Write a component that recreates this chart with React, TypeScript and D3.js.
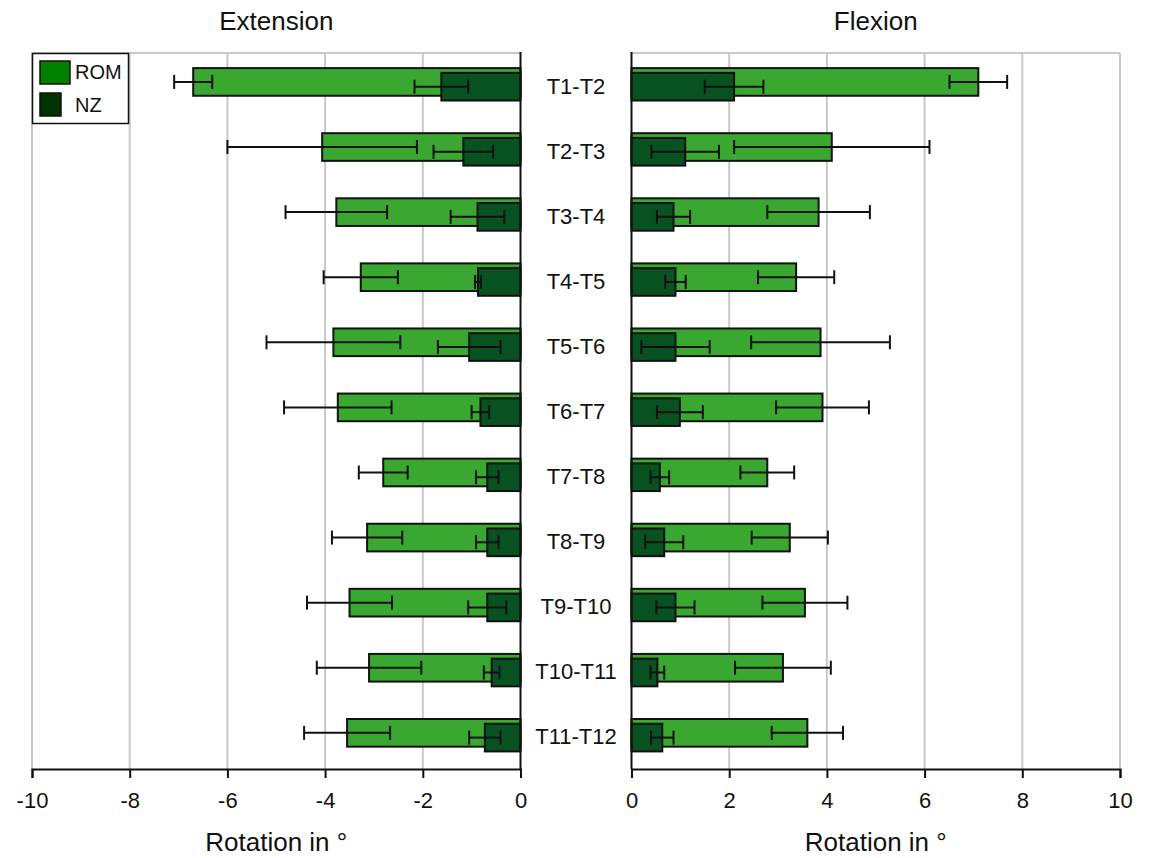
import * as d3 from 'd3'
import { useEffect, useRef } from 'react'

const segments = ['T1-T2', 'T2-T3', 'T3-T4', 'T4-T5', 'T5-T6', 'T6-T7', 'T7-T8', 'T8-T9', 'T9-T10', 'T10-T11', 'T11-T12']

// extension (drawn to the left, negative)
const extRom = [-6.7, -4.06, -3.77, -3.27, -3.83, -3.74, -2.81, -3.14, -3.5, -3.1, -3.55]
const extRomSd = [0.39, 1.94, 1.04, 0.76, 1.37, 1.1, 0.5, 0.72, 0.87, 1.07, 0.88]
const extNz = [-1.62, -1.17, -0.88, -0.87, -1.05, -0.82, -0.68, -0.68, -0.68, -0.59, -0.73]
const extNzSd = [0.55, 0.61, 0.55, 0.06, 0.64, 0.18, 0.23, 0.23, 0.39, 0.16, 0.32]

// flexion
const flexRom = [7.1, 4.1, 3.83, 3.37, 3.87, 3.91, 2.78, 3.24, 3.55, 3.1, 3.6]
const flexRomSd = [0.59, 2.0, 1.05, 0.78, 1.42, 0.95, 0.55, 0.78, 0.87, 0.98, 0.73]
const flexNz = [2.1, 1.1, 0.86, 0.9, 0.9, 0.99, 0.58, 0.67, 0.9, 0.53, 0.63]
const flexNzSd = [0.6, 0.69, 0.34, 0.21, 0.7, 0.47, 0.19, 0.39, 0.39, 0.14, 0.23]

const leftTicks = [-10, -8, -6, -4, -2, 0]
const rightTicks = [0, 2, 4, 6, 8, 10]

const W = 1151
const H = 858
const top = 53
const bottom = 769
const font = '"Liberation Sans", Arial, sans-serif'
const romColor = '#3aa830'
const nzColor = '#085222'

export default function App() {
  const ref = useRef<SVGSVGElement>(null)

  useEffect(() => {
    const svg = d3.select(ref.current)
    svg.selectAll('*').remove()

    const y = d3.scaleBand().domain(segments).range([top, bottom])
    const bw = y.bandwidth()

    const panel = (
      x: d3.ScaleLinear<number, number>,
      ticks: number[],
      zero: number,
      rom: number[],
      romSd: number[],
      nz: number[],
      nzSd: number[],
      title: string
    ) => {
      const g = svg.append('g')
      const [x0, x1] = x.range()
      const cx = (x0 + x1) / 2

      // grid
      g.selectAll('.grid')
        .data(ticks.filter((t) => t !== 0))
        .enter()
        .append('line')
        .attr('x1', (d) => x(d))
        .attr('x2', (d) => x(d))
        .attr('y1', top)
        .attr('y2', bottom)
        .attr('stroke', '#c8c8c8')
        .attr('stroke-width', 2)
      g.append('line')
        .attr('x1', x0)
        .attr('x2', x1)
        .attr('y1', top)
        .attr('y2', top)
        .attr('stroke', '#c8c8c8')
        .attr('stroke-width', 2)

      const series = [
        { vals: rom, sd: romSd, color: romColor, off: 0.232 },
        { vals: nz, sd: nzSd, color: nzColor, off: 0.305 },
      ]
      const h = bw * 0.425

      series.forEach((s) => {
        const rows = segments.map((c, i) => ({ c, v: s.vals[i], sd: s.sd[i] }))
        g.selectAll(null)
          .data(rows)
          .enter()
          .append('rect')
          .attr('x', (d) => Math.min(x(0), x(d.v)))
          .attr('width', (d) => Math.abs(x(d.v) - x(0)))
          .attr('y', (d) => (y(d.c) as number) + bw * s.off)
          .attr('height', h)
          .attr('fill', s.color)
          .attr('stroke', '#111')
          .attr('stroke-width', 2)

        const eb = g
          .selectAll(null)
          .data(rows)
          .enter()
          .append('g')
          .attr('transform', (d) => `translate(0,${(y(d.c) as number) + bw * s.off + h / 2})`)
          .attr('stroke', '#111')
          .attr('stroke-width', 2)
        eb.append('line')
          .attr('x1', (d) => x(d.v - d.sd))
          .attr('x2', (d) => x(d.v + d.sd))
        eb.append('line')
          .attr('x1', (d) => x(d.v - d.sd))
          .attr('x2', (d) => x(d.v - d.sd))
          .attr('y1', -7)
          .attr('y2', 7)
        eb.append('line')
          .attr('x1', (d) => x(d.v + d.sd))
          .attr('x2', (d) => x(d.v + d.sd))
          .attr('y1', -7)
          .attr('y2', 7)
      })

      // zero line
      g.append('line')
        .attr('x1', zero)
        .attr('x2', zero)
        .attr('y1', top - 1)
        .attr('y2', bottom)
        .attr('stroke', '#111')
        .attr('stroke-width', 2)

      const axis = g
        .append('g')
        .attr('transform', `translate(0,${bottom})`)
        .call(
          d3
            .axisBottom(x)
            .tickValues(ticks)
            .tickSize(9)
            .tickPadding(14)
            .tickFormat((d) => String(d))
        )
      axis.select('.domain').attr('stroke', '#111').attr('stroke-width', 2)
      axis.selectAll('.tick line').attr('stroke', '#111').attr('stroke-width', 2)
      axis.selectAll('.tick text').attr('font-size', 22).attr('font-family', font).attr('fill', '#111')

      g.append('text')
        .attr('x', cx)
        .attr('y', 851)
        .attr('text-anchor', 'middle')
        .attr('font-size', 26)
        .attr('font-family', font)
        .attr('fill', '#111')
        .text('Rotation in °')

      g.append('text')
        .attr('x', cx)
        .attr('y', 30)
        .attr('text-anchor', 'middle')
        .attr('font-size', 26)
        .attr('font-family', font)
        .attr('fill', '#111')
        .text(title)
    }

    const xLeft = d3.scaleLinear().domain([-10, 0]).range([32, 520.5])
    const xRight = d3.scaleLinear().domain([0, 10]).range([631.5, 1120])
    panel(xLeft, leftTicks, xLeft(0), extRom, extRomSd, extNz, extNzSd, 'Extension')
    panel(xRight, rightTicks, xRight(0), flexRom, flexRomSd, flexNz, flexNzSd, 'Flexion')

    // segment labels
    svg
      .append('g')
      .selectAll('text')
      .data(segments)
      .enter()
      .append('text')
      .attr('x', 576)
      .attr('y', (d) => (y(d) as number) + bw * 0.5 + 8)
      .attr('text-anchor', 'middle')
      .attr('font-size', 22)
      .attr('font-family', font)
      .attr('fill', '#111')
      .text((d) => d)

    // legend
    const lg = svg.append('g')
    lg.append('rect')
      .attr('x', 32.5)
      .attr('y', 53.5)
      .attr('width', 96)
      .attr('height', 70)
      .attr('fill', '#fff')
      .attr('stroke', '#111')
      .attr('stroke-width', 1.5)
    lg.append('rect')
      .attr('x', 40)
      .attr('y', 61)
      .attr('width', 30)
      .attr('height', 23)
      .attr('fill', '#007f00')
      .attr('stroke', '#111')
      .attr('stroke-width', 1.5)
    lg.append('rect')
      .attr('x', 40)
      .attr('y', 93)
      .attr('width', 21)
      .attr('height', 23)
      .attr('fill', '#003300')
      .attr('stroke', '#111')
      .attr('stroke-width', 1.5)
    lg.append('text')
      .attr('x', 75)
      .attr('y', 79)
      .attr('font-size', 20)
      .attr('font-family', font)
      .attr('fill', '#111')
      .text('ROM')
    lg.append('text')
      .attr('x', 75)
      .attr('y', 112)
      .attr('font-size', 20)
      .attr('font-family', font)
      .attr('fill', '#111')
      .text('NZ')
  }, [])

  return (
    <svg
      ref={ref}
      width={W}
      height={H}
      style={{ position: 'absolute', left: 0, top: 0, background: '#fff' }}
    />
  )
}
